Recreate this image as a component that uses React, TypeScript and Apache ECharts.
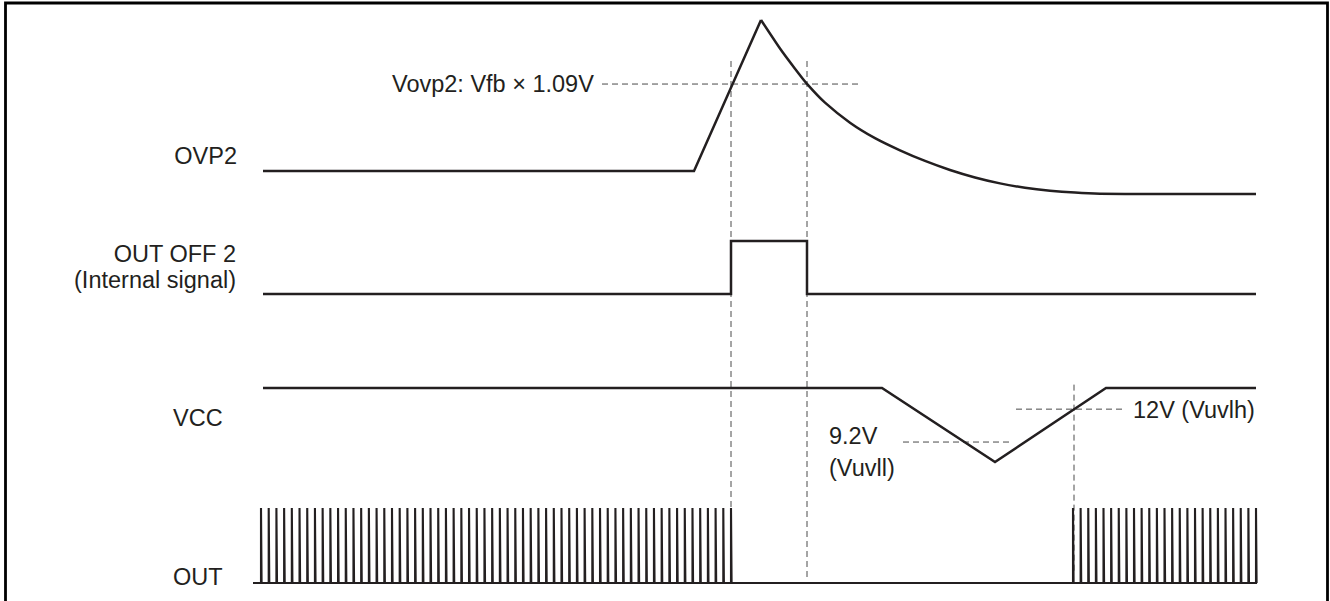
import React, { useEffect, useRef } from "react";
import * as echarts from "echarts";

const INK = "#231f20";
const DASH = "#4a4a4a";
const FONT = '23.5px "Liberation Sans", Arial, Helvetica, sans-serif';

// time axis, arbitrary units
const T_MAX = 1003;

// OVP2 pin (normalised: 0 = settled level, 1 = peak)
const ovp2RiseTime = [10, 441, 508];
const ovp2RiseLevel = [0.132, 0.132, 1];
const ovp2DecayTime = [508, 527, 542, 554, 572, 597, 622, 647, 672, 697, 722, 747, 772, 797, 822, 847, 897, 1003];
const ovp2DecayLevel = [1, 0.836, 0.72, 0.633, 0.525, 0.41, 0.321, 0.251, 0.19, 0.138, 0.095, 0.061, 0.036, 0.019, 0.008, 0.002, 0, 0];
const ovp2Threshold = 0.632;
const ovp2ThresholdSpan = [349, 607];

// OUT OFF 2 internal signal (0 / 1)
const outOffTime = [10, 478, 478, 554, 554, 1003];
const outOffLevel = [0, 0, 1, 1, 0, 0];

// VCC (volts)
const vccTime = [10, 629, 742, 853, 1003];
const vccVolts = [13.8, 13.8, 7.5, 13.8, 13.8];
const uvloLow = 9.2;
const uvloLowSpan = [650, 759];
const uvloHigh = 12;
const uvloHighSpan = [763, 870];

// OUT switching bursts
const outBursts = [
  { start: 8, end: 478, count: 62 },
  { start: 820, end: 1003, count: 25 },
];
const pulseWidth = 0.6;

// vertical dashed timing markers (time, top/bottom level in overlay 0..1)
const markerTime = [478, 554, 821];
const markerTop = [1, 1, 0.38];
const markerBottom = [0.02, 0.01, 0.02];

function buildPulses() {
  const pts: number[][] = [[0, 0]];
  outBursts.forEach((b) => {
    const step = (b.end - b.start) / (b.count - 1);
    for (let i = 0; i < b.count; i++) {
      const t = b.start + i * step;
      pts.push([t, 0], [t, 1], [t + pulseWidth, 1], [t + pulseWidth, 0]);
    }
  });
  pts.push([T_MAX, 0]);
  return pts;
}

const zip = (a: number[], b: number[]) => a.map((v, i) => [v, b[i]]);

export default function App() {
  const ref = useRef<HTMLDivElement>(null);
  useEffect(() => {
    if (!ref.current) return;
    const chart = echarts.init(ref.current, undefined, { renderer: "svg" });
    const grids = [
      { top: 20, height: 174 }, // OVP2
      { top: 241, height: 53 }, // OUT OFF 2
      { top: 388, height: 74 }, // VCC
      { top: 508, height: 75 }, // OUT
      { top: 61, height: 522 }, // overlay
    ].map((g) => ({ left: 253, width: 1003, ...g }));
    const xAxes = grids.map((_, i) => ({
      type: "value", gridIndex: i, min: 0, max: T_MAX, show: false,
    }));
    const yAxes = [
      { min: 0, max: 1 },
      { min: 0, max: 1 },
      { min: 7.5, max: 13.8 },
      { min: 0, max: 1 },
      { min: 0, max: 1 },
    ].map((y, i) => ({ type: "value", gridIndex: i, show: false, ...y }));

    const solid = (i: number, data: number[][], width = 2.5, smooth: any = false) => ({
      type: "line", xAxisIndex: i, yAxisIndex: i, data, symbol: "none",
      clip: false, silent: true, smooth,
      lineStyle: { color: INK, width, join: "miter", cap: "butt" },
    });
    const dashed = (i: number, data: number[][]) => ({
      type: "line", xAxisIndex: i, yAxisIndex: i, data, symbol: "none",
      clip: false, silent: true, z: 1,
      lineStyle: { color: DASH, width: 1, type: [6, 4] },
    });

    const series: any[] = [
      dashed(0, [[ovp2ThresholdSpan[0], ovp2Threshold], [ovp2ThresholdSpan[1], ovp2Threshold]]),
      dashed(2, [[uvloLowSpan[0], uvloLow], [uvloLowSpan[1], uvloLow]]),
      dashed(2, [[uvloHighSpan[0], uvloHigh], [uvloHighSpan[1], uvloHigh]]),
      ...markerTime.map((t, k) => dashed(4, [[t, markerTop[k]], [t, markerBottom[k]]])),
      solid(0, zip(ovp2RiseTime, ovp2RiseLevel)),
      solid(0, zip(ovp2DecayTime, ovp2DecayLevel), 2.5, 0.2),
      solid(1, zip(outOffTime, outOffLevel)),
      solid(2, zip(vccTime, vccVolts)),
      solid(3, buildPulses(), 2.1),
    ];

    const txt = (text: string, x: number, y: number, align: string) => ({
      type: "text", x, y, silent: true,
      style: {
        text, font: FONT, fill: INK,
        textAlign: align, align, textVerticalAlign: "middle", verticalAlign: "middle",
      },
    });

    chart.setOption({
      animation: false,
      backgroundColor: "#ffffff",
      grid: grids,
      xAxis: xAxes,
      yAxis: yAxes,
      series,
      graphic: [
        {
          type: "rect", silent: true,
          shape: { x: 5.5, y: 3, width: 1322, height: 640 },
          style: { fill: "none", stroke: "#000", lineWidth: 2.8 },
        },
        txt("OVP2", 237, 155.5, "right"),
        txt("OUT OFF 2", 236, 254, "right"),
        txt("(Internal signal)", 236, 280, "right"),
        txt("VCC", 173, 418, "left"),
        txt("OUT", 173, 577, "left"),
        txt("Vovp2: Vfb \u00d7 1.09V", 392, 84, "left"),
        txt("9.2V", 829, 436, "left"),
        txt("(Vuvll)", 829, 468, "left"),
        txt("12V (Vuvlh)", 1133, 410, "left"),
      ],
    });
    return () => chart.dispose();
  }, []);
  return (
    <div
      ref={ref}
      style={{ position: "absolute", left: 0, top: 0, width: 1330, height: 601 }}
    />
  );
}
